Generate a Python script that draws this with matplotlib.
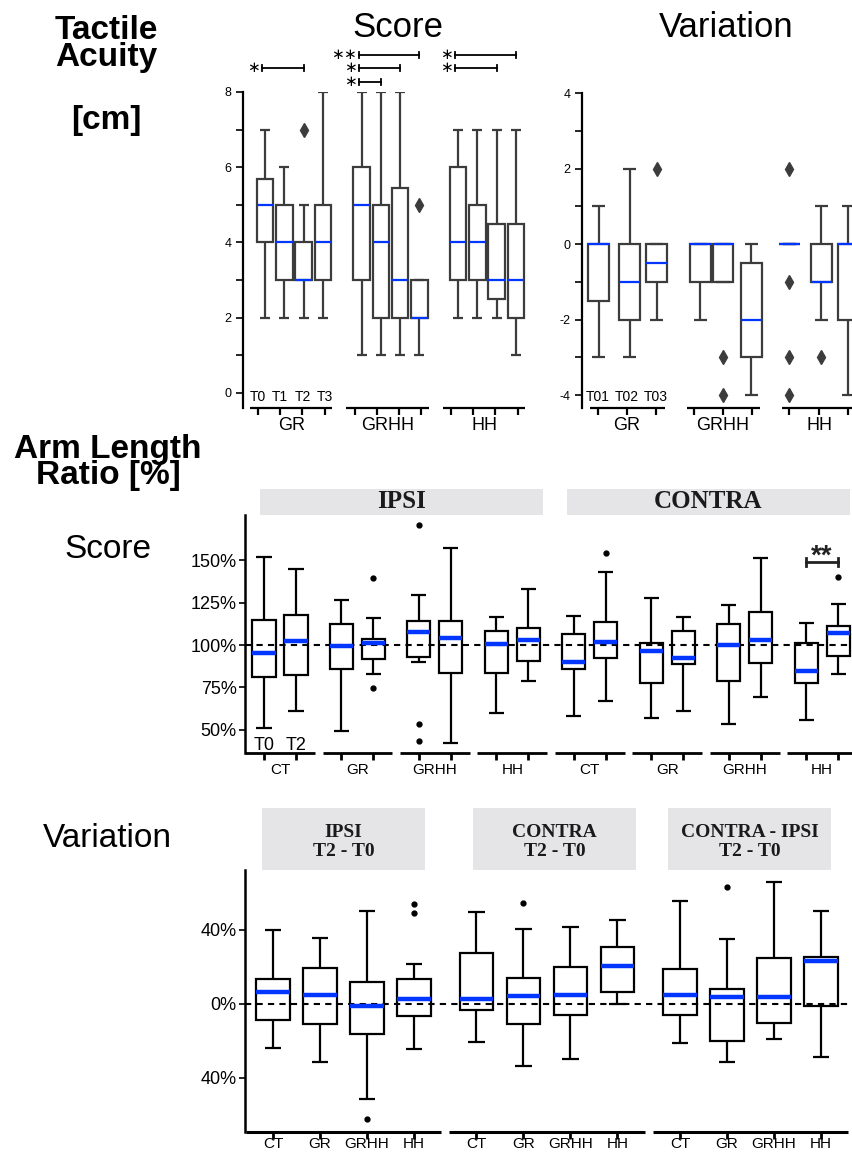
import matplotlib
matplotlib.use('Agg')
import matplotlib.pyplot as plt
import matplotlib.transforms as mtrans
from matplotlib.patches import Rectangle
from matplotlib.ticker import MultipleLocator

plt.rcParams['font.family'] = ['Liberation Sans', 'DejaVu Sans']
plt.rcParams['axes.unicode_minus'] = False

# ---------------- data ----------------
# Tactile acuity score [cm]: GR, GRHH, HH x T0..T3
acuity_groups = ['GR', 'GRHH', 'HH']
acuity_times = ['T0', 'T1', 'T2', 'T3']
score_lo = [2, 2, 2, 2, 1, 1, 1, 1, 2, 2, 2, 1]
score_q1 = [4, 3, 3, 3, 3, 2, 2, 2, 3, 3, 2.5, 2]
score_med = [5, 4, 3, 4, 5, 4, 3, 2, 4, 4, 3, 3]
score_q3 = [5.7, 5, 4, 5, 6, 5, 5.45, 3, 6, 5, 4.5, 4.5]
score_hi = [7, 6, 5, 8, 8, 8, 8, 3, 7, 7, 7, 7]
score_fliers = [[], [], [7], [], [], [], [], [5], [], [], [], []]

# significance: (group, from time, to time, stars, row)
score_sig = [(0, 0, 2, 1, 1),
             (1, 0, 3, 2, 0), (1, 0, 2, 1, 1), (1, 0, 1, 1, 2),
             (2, 0, 3, 1, 0), (2, 0, 2, 1, 1)]

# Tactile acuity variation: GR, GRHH, HH x T01..T03
var_times = ['T01', 'T02', 'T03']
var_lo = [-3, -3, -2, -2, -1, -4, 0, -2, -4]
var_q1 = [-1.5, -2, -1, -1, -1, -3, 0, -1, -2]
var_med = [0, -1, -0.5, 0, 0, -2, 0, -1, 0]
var_q3 = [0, 0, 0, 0, 0, -0.5, 0, 0, 0]
var_hi = [1, 2, 0, 0, 0, 0, 0, 1, 1]
var_fliers = [[], [], [2], [], [-3, -4], [], [2, -1, -3, -4], [-3], []]

# Arm length ratio score [%]: IPSI / CONTRA x CT, GR, GRHH, HH x T0, T2
arm_sides = ['IPSI', 'CONTRA']
arm_groups = ['CT', 'GR', 'GRHH', 'HH']
arm_times = ['T0', 'T2']
arm_lo = [50.8, 61.0, 49.4, 82.9, 90.0, 42.3, 59.6, 78.7,
          58.3, 67.1, 56.9, 61.2, 53.5, 69.3, 55.9, 83.1]
arm_q1 = [81.3, 82.3, 85.8, 91.5, 92.9, 83.7, 83.7, 90.6,
          85.6, 92.3, 77.8, 88.8, 78.5, 89.2, 77.4, 93.5]
arm_med = [95.5, 102.6, 99.4, 101.4, 107.9, 104.3, 100.8, 103.0,
           90.0, 101.8, 96.7, 92.5, 100.0, 103.1, 84.6, 107.1]
arm_q3 = [114.8, 117.5, 112.4, 103.3, 114.4, 114.4, 108.3, 109.8,
          106.3, 113.8, 101.4, 108.1, 112.4, 119.5, 101.0, 111.2]
arm_hi = [151.8, 144.9, 126.6, 115.9, 129.5, 157.3, 116.5, 133.1,
          117.1, 143.1, 127.8, 116.3, 123.6, 151.4, 112.8, 124.0]
arm_fliers = [[], [], [], [139.6, 74.6], [170.7, 53.1, 43.1], [], [], [],
              [], [154.1], [], [], [], [], [], [140.4]]
arm_sig = [(15, 14, '**', 149)]   # CONTRA HH T0 vs T2

# Arm length ratio variation [%]
diff_panels = ['IPSI\nT2 - T0', 'CONTRA\nT2 - T0', 'CONTRA - IPSI\nT2 - T0']
diff_lo = [-23.6, -31.5, -51.1, -24.1, -20.3, -33.3, -30.0, 0.0, -20.9, -31.6, -18.7, -28.4]
diff_q1 = [-8.6, -10.6, -16.2, -6.3, -3.2, -10.8, -6.1, 6.3, -5.9, -19.8, -10.4, -1.1]
diff_med = [6.7, 5.0, -0.9, 2.9, 2.9, 4.5, 5.0, 20.7, 5.0, 3.6, 4.0, 23.0]
diff_q3 = [13.7, 19.4, 11.9, 13.7, 27.7, 14.2, 20.1, 30.7, 18.9, 8.3, 24.8, 25.5]
diff_hi = [39.9, 35.6, 50.2, 21.6, 49.6, 40.4, 41.7, 45.3, 55.6, 35.1, 65.8, 50.2]
diff_fliers = [[], [], [-62.4], [53.8, 48.9], [], [54.7], [], [], [], [63.3], [], []]
diff_ticks = [40, 0, -40]
diff_ticklabels = ['40%', '0%', '40%']

# ---------------- figure ----------------
W, H = 853, 1153
fig = plt.figure(figsize=(W / 100, H / 100), dpi=100)
BLUE = '#0036ff'
GREY = '#3c3c3c'


def fy(py):
    return 1 - py / H


def px_axes(x0, x1, y0, y1, xlim, ylim):
    ax = fig.add_axes([x0 / W, 1 - y1 / H, (x1 - x0) / W, (y1 - y0) / H])
    ax.set_xlim(*xlim)
    ax.set_ylim(*ylim)
    for s in ['top', 'right', 'bottom']:
        ax.spines[s].set_visible(False)
    ax.patch.set_alpha(0)
    return ax


def draw_boxes(ax, lo, q1, med, q3, hi, fl, pos, width, capw, edge, lw, mlw, marker, msize):
    stats = [dict(whislo=a, q1=b, med=c, q3=d, whishi=e, fliers=f)
             for a, b, c, d, e, f in zip(lo, q1, med, q3, hi, fl)]
    ax.bxp(stats, positions=pos, widths=width, capwidths=capw, patch_artist=True,
           manage_ticks=False,
           boxprops=dict(facecolor='white', edgecolor=edge, linewidth=lw),
           whiskerprops=dict(color=edge, linewidth=lw, solid_capstyle='butt'),
           capprops=dict(color=edge, linewidth=lw, solid_capstyle='butt'),
           medianprops=dict(color=BLUE, linewidth=mlw, solid_capstyle='butt', zorder=4),
           flierprops=dict(marker=marker, markerfacecolor=edge, markeredgecolor=edge,
                           markersize=msize, linestyle='none'))


def group_line(ax, a, b, lw):
    ax.plot([a, b], [0, 0], transform=ax.get_xaxis_transform(), clip_on=False,
            color='black', lw=lw, solid_capstyle='butt')


def xfig(ax):
    return mtrans.blended_transform_factory(ax.transData, fig.transFigure)


# ---- left side headings ----
fig.text(106 / W, fy(66), 'Tactile\nAcuity', fontsize=24, fontweight='bold', ha='center',
         va='baseline', linespacing=0.82)
fig.text(106 / W, fy(129), '[cm]', fontsize=24, fontweight='bold', ha='center', va='baseline')
fig.text(108 / W, fy(484), 'Arm Length\nRatio [%]', fontsize=24, fontweight='bold',
         ha='center', va='baseline', linespacing=0.8)
fig.text(108 / W, fy(558), 'Score', fontsize=24, ha='center', va='baseline')
fig.text(107 / W, fy(847), 'Variation', fontsize=24, ha='center', va='baseline')
fig.text(398 / W, fy(37), 'Score', fontsize=25, ha='center', va='baseline')
fig.text(726 / W, fy(37), 'Variation', fontsize=25, ha='center', va='baseline')

# ---- tactile score ----
ax1 = px_axes(243, 526, 92, 408, (-1.14, 13.52), (-0.4, 8))
pos1 = [g * 5 + i for g in range(len(acuity_groups)) for i in range(len(acuity_times))]
tick1 = [g * 5 - 0.36 + 1.15 * i for g in range(len(acuity_groups)) for i in range(len(acuity_times))]
draw_boxes(ax1, score_lo, score_q1, score_med, score_q3, score_hi, score_fliers,
           pos1, 0.86, 0.52, GREY, 1.6, 1.6, 'd', 7)
for g, name in enumerate(acuity_groups):
    group_line(ax1, g * 5 - 0.78, g * 5 + 3.47, 1.6)
    ax1.text(g * 5 - 0.36 + 1.15 * 1.5, fy(426), name, transform=xfig(ax1),
             fontsize=13, ha='center', va='center')
for i, t in enumerate(acuity_times):
    ax1.text(tick1[i], fy(397), t, transform=xfig(ax1), fontsize=10, ha='center', va='center')
ax1.set_xticks(tick1)
ax1.set_yticks([0, 2, 4, 6, 8])
ax1.yaxis.set_minor_locator(MultipleLocator(1))
ax1.tick_params(axis='x', length=5, width=1.6, labelbottom=False)
ax1.tick_params(axis='y', which='both', length=5, width=1.2, labelsize=9)
ax1.spines['left'].set_linewidth(1.6)
row_y = [8.98, 8.64, 8.27]
for g, a, b, n, row in score_sig:
    x0 = pos1[g * 4 + a] - 0.15
    x1 = pos1[g * 4 + b]
    y = row_y[row]
    ax1.plot([x0, x1], [y, y], color='black', lw=1.3, clip_on=False)
    ax1.plot([x0, x0], [y - 0.08, y + 0.08], color='black', lw=1.3, clip_on=False)
    ax1.plot([x1, x1], [y - 0.08, y + 0.08], color='black', lw=1.3, clip_on=False)
    ax1.text(x0 - 0.1, y, '$\\ast' + '{\\ast}' * (n - 1) + '$', fontsize=11,
             ha='right', va='center', clip_on=False)

# ---- tactile variation ----
ax2 = px_axes(582, 880, 93, 408, (-0.55, 9.72), (-4.34, 4))
pos2 = [0.03, 1.1, 2.03, 3.52, 4.31, 5.28, 6.59, 7.69, 8.62]
tick2 = [0, 1, 2, 3.31, 4.31, 5.31, 6.59, 7.62, 8.62]
draw_boxes(ax2, var_lo, var_q1, var_med, var_q3, var_hi, var_fliers,
           pos2, 0.72, 0.45, GREY, 1.6, 1.6, 'd', 7)
spans2 = [(-0.28, 2.31), (3.07, 5.59), (6.34, 9.7)]
for g, name in enumerate(acuity_groups):
    group_line(ax2, spans2[g][0], spans2[g][1], 1.6)
    ax2.text(tick2[g * 3 + 1], fy(426), name, transform=xfig(ax2),
             fontsize=13, ha='center', va='center')
for i, t in enumerate(var_times):
    ax2.text(tick2[i], fy(397), t, transform=xfig(ax2), fontsize=10, ha='center', va='center')
ax2.set_xticks(tick2)
ax2.set_yticks([-4, -2, 0, 2, 4])
ax2.yaxis.set_minor_locator(MultipleLocator(1))
ax2.tick_params(axis='x', length=5, width=1.6, labelbottom=False)
ax2.tick_params(axis='y', which='both', length=5, width=1.2, labelsize=9)
ax2.spines['left'].set_linewidth(1.6)

# ---- arm length ratio score ----
ax3 = px_axes(245, 880, 515, 753, (-1.094, 18.75), (36.2, 176.8))
npair = len(arm_sides) * len(arm_groups)
pos3 = [p * 2.42 + d for p in range(npair) for d in (-0.5, 0.5)]
ax3.axhline(100, color='black', lw=1.5, ls=(0, (3, 2.5)), zorder=2.5)
draw_boxes(ax3, arm_lo, arm_q1, arm_med, arm_q3, arm_hi, arm_fliers,
           pos3, 0.72, 0.47, 'black', 1.6, 3.2, 'o', 3.5)
for p in range(npair):
    c = p * 2.42
    group_line(ax3, c - 1.09, c + 1.09, 2)
    ax3.text(c, fy(770), arm_groups[p % 4], transform=xfig(ax3),
             fontsize=11, ha='center', va='center')
for i, t in enumerate(arm_times):
    ax3.text(pos3[i], fy(745), t, transform=xfig(ax3), fontsize=13, ha='center', va='center')
ax3.set_xticks(pos3)
ax3.set_yticks([50, 75, 100, 125, 150])
ax3.set_yticklabels([f'{v}%' for v in [50, 75, 100, 125, 150]])
ax3.tick_params(axis='x', length=5, width=2, labelbottom=False)
ax3.tick_params(axis='y', length=4, width=1.2, labelsize=13, pad=2)
ax3.spines['left'].set_linewidth(1.8)
for a, b, lab, y in arm_sig:
    x0, x1 = pos3[b], pos3[a]
    ax3.plot([x0, x1], [y, y], color='#222222', lw=2, clip_on=False)
    ax3.plot([x0, x0], [y - 2.5, y + 2.5], color='#222222', lw=2, clip_on=False)
    ax3.plot([x1, x1], [y - 2.5, y + 2.5], color='#222222', lw=2, clip_on=False)
    ax3.text((x0 + x1) / 2, y - 1, lab, fontsize=20, fontweight='bold',
             ha='center', va='baseline', color='#222222', clip_on=False)
strip_top = [(260, 543), (567, 850)]
for (x0, x1), name in zip(strip_top, arm_sides):
    fig.patches.append(Rectangle((x0 / W, fy(515)), (x1 - x0) / W, 26 / H,
                                 transform=fig.transFigure, facecolor='#e5e5e8',
                                 edgecolor='none'))
    fig.text((x0 + x1) / 2 / W, fy(502), name, family='Liberation Serif', fontweight='bold',
             fontsize=18, ha='center', va='center', color='#1a1a1a')

# ---- arm length ratio variation ----
ax4 = px_axes(245, 880, 870, 1132, (-2.096, 11.416), (-69.2, 72.4))
pos4 = [g * 4.33 + (i - 1.5) for g in range(len(diff_panels)) for i in range(len(arm_groups))]
ax4.axhline(0, color='black', lw=1.5, ls=(0, (3, 2.5)), zorder=2.5)
draw_boxes(ax4, diff_lo, diff_q1, diff_med, diff_q3, diff_hi, diff_fliers,
           pos4, 0.71, 0.36, 'black', 1.6, 3.2, 'o', 3.5)
for g in range(len(diff_panels)):
    c = g * 4.33
    group_line(ax4, max(c - 2.08, -2.096), c + 2.08, 2.2)
for i, x in enumerate(pos4):
    ax4.text(x, fy(1144), arm_groups[i % 4], transform=xfig(ax4),
             fontsize=11, ha='center', va='center')
ax4.set_xticks(pos4)
ax4.set_yticks(diff_ticks)
ax4.set_yticklabels(diff_ticklabels)
ax4.tick_params(axis='x', length=5, width=2, labelbottom=False)
ax4.tick_params(axis='y', length=4, width=1.2, labelsize=13, pad=2)
ax4.spines['left'].set_linewidth(1.8)
strip_bot = [(262, 425), (473, 636), (668, 831)]
for (x0, x1), name in zip(strip_bot, diff_panels):
    fig.patches.append(Rectangle((x0 / W, fy(870)), (x1 - x0) / W, 62 / H,
                                 transform=fig.transFigure, facecolor='#e5e5e8',
                                 edgecolor='none'))
    fig.text((x0 + x1) / 2 / W, fy(842), name, family='Liberation Serif', fontweight='bold',
             fontsize=14, ha='center', va='center', color='#1a1a1a', linespacing=1.1)

fig.savefig('out.png', dpi=100)
